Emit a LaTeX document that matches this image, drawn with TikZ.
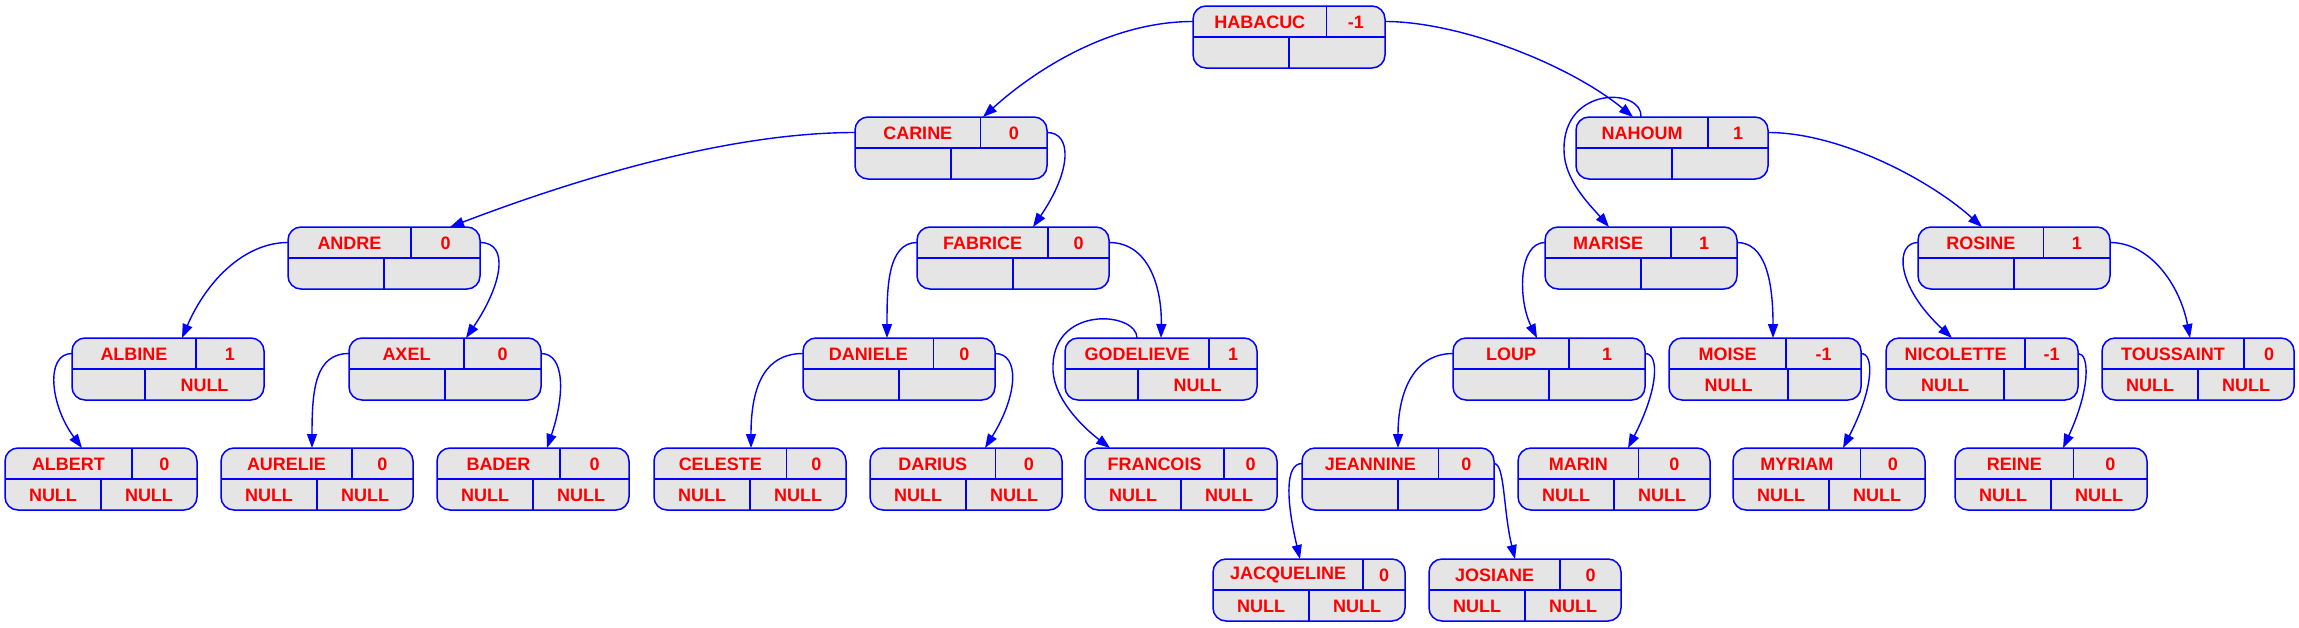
\documentclass[tikz,border=0pt]{standalone}
\usepackage{fontspec}
\setmainfont{Liberation Sans}
\usetikzlibrary{calc,arrows.meta}
\definecolor{cellgray}{HTML}{E5E5E5}
\tikzset{
  recbox/.style={draw=blue, fill=cellgray, line width=1.5pt, rounded corners=13pt,
    minimum width=192pt, minimum height=62pt, inner sep=0pt, outer sep=0pt},
  recline/.style={draw=blue, line width=1.5pt},
  rectext/.style={text=red, font=\fontsize{18}{20}\selectfont\bfseries, inner sep=0pt, anchor=center},
  edge/.style={draw=blue, line width=1.4pt, -{Triangle[length=14pt,width=10pt]}}
}
\newcommand{\rec}[9]{%
  \node[recbox, anchor=north west] (#1) at (#2,#3) {};
  \draw[recline] ($(#1.north west)+(0,31)$) -- ($(#1.north west)+(192,31)$);
  \draw[recline] ($(#1.north west)+(#6,0)$) -- ($(#1.north west)+(#6,31)$);
  \draw[recline] ($(#1.north west)+(#9,31)$) -- ($(#1.north west)+(#9,62)$);
  \node[rectext] (#1-name) at ($(#1.north west)+({#6/2},16)$) {#4};
  \node[rectext] (#1-val) at ($(#1.north west)+({(#6+192)/2},16)$) {#5};
  \node[rectext] (#1-bl) at ($(#1.north west)+({#9/2},47)$) {#7};
  \node[rectext] (#1-br) at ($(#1.north west)+({(#9+192)/2},47)$) {#8};
  \coordinate (#1-l) at ($(#1.north west)+(0,15.5)$);
  \coordinate (#1-r) at ($(#1.north west)+(192,15.5)$);
}
\newcommand{\at}[2]{($(#1.north west)+(#2,0)$)}
\begin{document}
\begin{tikzpicture}[x=1pt,y=-1pt]
\useasboundingbox (0,0) rectangle (2299,627);
% level 0
\rec{HABACUC}{1193}{6}{HABACUC}{-1}{133.5}{}{}{96}
% level 1
\rec{CARINE}{855}{117}{CARINE}{0}{125.5}{}{}{96}
\rec{NAHOUM}{1576}{117}{NAHOUM}{1}{132}{}{}{96}
% level 2
\rec{ANDRE}{288}{227}{ANDRE}{0}{123}{}{}{96}
\rec{FABRICE}{917}{227}{FABRICE}{0}{131}{}{}{96}
\rec{MARISE}{1545}{227}{MARISE}{1}{126}{}{}{96}
\rec{ROSINE}{1918}{227}{ROSINE}{1}{125.5}{}{}{96}
% level 3
\rec{ALBINE}{72}{338}{ALBINE}{1}{124}{}{NULL}{73}
\rec{AXEL}{349}{338}{AXEL}{0}{115}{}{}{96}
\rec{DANIELE}{803}{338}{DANIELE}{0}{130.5}{}{}{96}
\rec{GODELIEVE}{1065}{338}{GODELIEVE}{1}{144}{}{NULL}{73}
\rec{LOUP}{1453}{338}{LOUP}{1}{116}{}{}{96}
\rec{MOISE}{1669}{338}{MOISE}{-1}{117}{NULL}{}{119}
\rec{NICOLETTE}{1886}{338}{NICOLETTE}{-1}{139}{NULL}{}{118}
\rec{TOUSSAINT}{2102}{338}{TOUSSAINT}{0}{142}{NULL}{NULL}{96}
% level 4
\rec{ALBERT}{5}{448}{ALBERT}{0}{127}{NULL}{NULL}{96}
\rec{AURELIE}{221}{448}{AURELIE}{0}{131}{NULL}{NULL}{96}
\rec{BADER}{437}{448}{BADER}{0}{123}{NULL}{NULL}{96}
\rec{CELESTE}{654}{448}{CELESTE}{0}{132.5}{NULL}{NULL}{96}
\rec{DARIUS}{870}{448}{DARIUS}{0}{125.5}{NULL}{NULL}{96}
\rec{FRANCOIS}{1085}{448}{FRANCOIS}{0}{139}{NULL}{NULL}{96}
\rec{JEANNINE}{1302}{448}{JEANNINE}{0}{136.5}{}{}{96}
\rec{MARIN}{1518}{448}{MARIN}{0}{120.5}{NULL}{NULL}{96}
\rec{MYRIAM}{1733}{448}{MYRIAM}{0}{127.5}{NULL}{NULL}{96}
\rec{REINE}{1955}{448}{REINE}{0}{118.5}{NULL}{NULL}{96}
% level 5
\rec{JACQUELINE}{1213}{559}{JACQUELINE}{0}{150}{NULL}{NULL}{96}
\rec{JOSIANE}{1429}{559}{JOSIANE}{0}{131}{NULL}{NULL}{96}
% edges
\draw[edge] (HABACUC-l) .. controls (1110,21.5) and (1035,70) .. \at{CARINE}{128};
\draw[edge] (HABACUC-r) .. controls (1460,21.5) and (1570,65) .. \at{NAHOUM}{57};
\draw[edge] \at{NAHOUM}{65} .. controls (1643,88) and (1563,85) .. (1564,150) .. controls (1564,180) and (1590,205) .. \at{MARISE}{64};
\draw[edge] (NAHOUM-r) .. controls (1840,132.5) and (1930,180) .. \at{ROSINE}{64};
\draw[edge] (CARINE-l) .. controls (720,132.5) and (560,185) .. \at{ANDRE}{162};
\draw[edge] (CARINE-r) .. controls (1072,132.5) and (1072,170) .. \at{FABRICE}{116};
\draw[edge] (ANDRE-l) .. controls (245,242.5) and (207,280) .. \at{ALBINE}{110};
\draw[edge] (ANDRE-r) .. controls (510,242.5) and (502,285) .. \at{AXEL}{117};
\draw[edge] (ALBINE-l) .. controls (45,353.5) and (50,405) .. \at{ALBERT}{77};
\draw[edge] (AXEL-l) .. controls (315,353.5) and (312,390) .. \at{AURELIE}{91};
\draw[edge] (AXEL-r) .. controls (565,353.5) and (565,395) .. \at{BADER}{110};
\draw[edge] (FABRICE-l) .. controls (887,242.5) and (887,290) .. \at{DANIELE}{84};
\draw[edge] (FABRICE-r) .. controls (1150,242.5) and (1162,290) .. \at{GODELIEVE}{96};
\draw[edge] (DANIELE-l) .. controls (760,353.5) and (751,395) .. \at{CELESTE}{97};
\draw[edge] (DANIELE-r) .. controls (1020,353.5) and (1018,395) .. \at{DARIUS}{115};
\draw[edge] \at{GODELIEVE}{72} .. controls (1137,312) and (1055,305) .. (1053,365) .. controls (1051,395) and (1080,425) .. \at{FRANCOIS}{25};
\draw[edge] (MARISE-l) .. controls (1518,242.5) and (1518,300) .. \at{LOUP}{84};
\draw[edge] (MARISE-r) .. controls (1765,242.5) and (1773,280) .. \at{MOISE}{104};
\draw[edge] (LOUP-l) .. controls (1415,353.5) and (1398,390) .. \at{JEANNINE}{96};
\draw[edge] (LOUP-r) .. controls (1660,353.5) and (1658,390) .. \at{MARIN}{110};
\draw[edge] (JEANNINE-l) .. controls (1285,463.5) and (1286,500) .. \at{JACQUELINE}{87};
\draw[edge] (JEANNINE-r) .. controls (1505,463.5) and (1503,510) .. \at{JOSIANE}{86};
\draw[edge] (MOISE-r) .. controls (1875,353.5) and (1873,390) .. \at{MYRIAM}{110};
\draw[edge] (ROSINE-l) .. controls (1895,242.5) and (1895,285) .. \at{NICOLETTE}{66};
\draw[edge] (ROSINE-r) .. controls (2150,242.5) and (2180,285) .. \at{TOUSSAINT}{88};
\draw[edge] (NICOLETTE-r) .. controls (2090,353.5) and (2090,390) .. \at{REINE}{108};
\end{tikzpicture}
\end{document}
